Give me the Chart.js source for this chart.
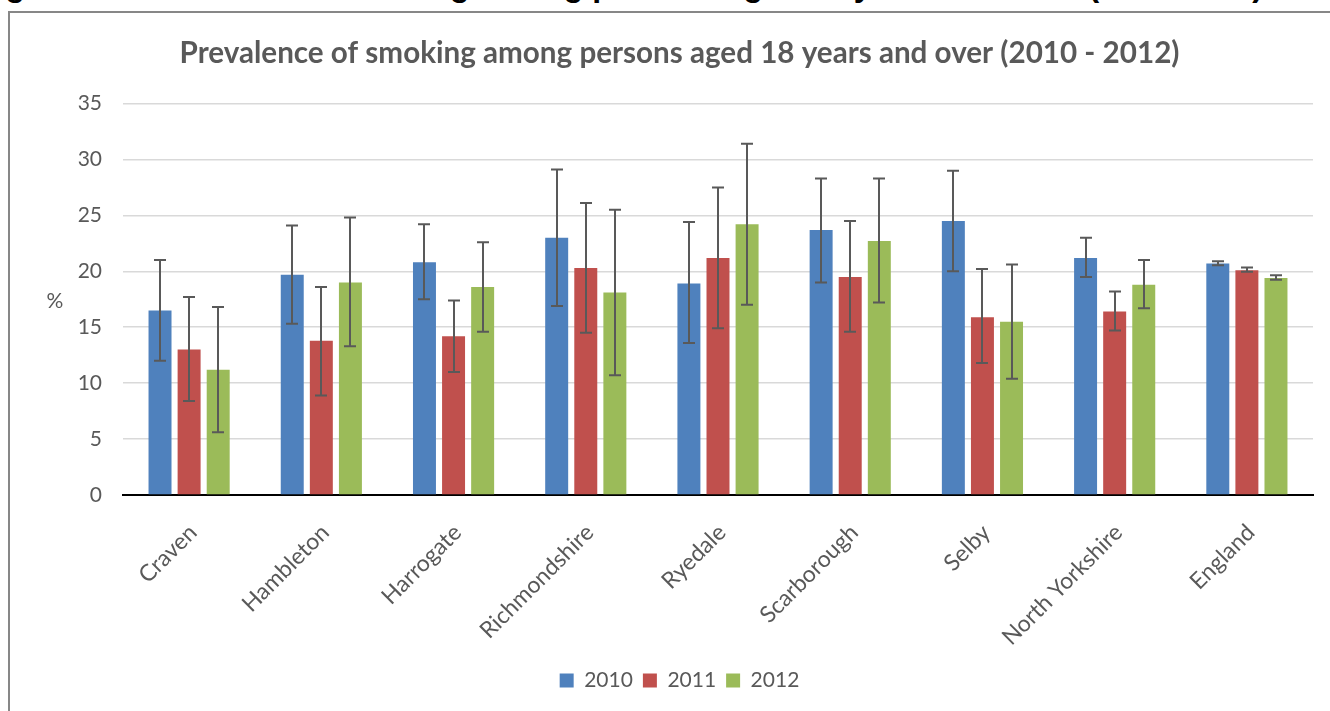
<!DOCTYPE html>
<html>
<head>
<meta charset="utf-8">
<script src="https://cdn.jsdelivr.net/npm/chart.js@4.4.1/dist/chart.umd.min.js"></script>
<style>
  html, body { margin:0; padding:0; background:#fff; overflow:hidden; width:1330px; height:711px; }
  #caption { position:absolute; left:-23px; top:-33px; line-height:32px; white-space:nowrap;
    font: bold 32px "Liberation Sans", Arial, sans-serif; color:#000; }
  #frame { position:absolute; left:8px; top:11px; width:1340px; height:720px;
    border-top:2px solid #878787; border-left:2px solid #878787; }
  #wrap { position:absolute; left:10px; top:13px; width:1320px; height:698px; }
</style>
</head>
<body>
<div id="caption">Figure 5: Prevalence of smoking among persons aged 18 years and over (2010-2012)</div>
<div id="frame"></div>
<div id="wrap"><canvas id="c" width="1320" height="698"></canvas></div>
<script>
const FONT = 'Lato, "Open Sans", sans-serif';
const titleText = 'Prevalence of smoking among persons aged 18 years and over (2010 - 2012)';
const categories = ['Craven','Hambleton','Harrogate','Richmondshire','Ryedale','Scarborough','Selby','North Yorkshire','England'];
const seriesNames = ['2010','2011','2012'];
const yTicks = [0,5,10,15,20,25,30,35];

const v2010 = [16.5, 19.7, 20.8, 23.0, 18.9, 23.7, 24.5, 21.2, 20.7];
const v2011 = [13.0, 13.8, 14.2, 20.3, 21.2, 19.5, 15.9, 16.4, 20.1];
const v2012 = [11.2, 19.0, 18.6, 18.1, 24.2, 22.7, 15.5, 18.8, 19.4];

const hi2010 = [21.0, 24.1, 24.2, 29.1, 24.4, 28.3, 29.0, 23.0, 20.9];
const lo2010 = [12.0, 15.3, 17.5, 16.9, 13.6, 19.0, 20.0, 19.5, 20.55];
const hi2011 = [17.7, 18.6, 17.4, 26.1, 27.5, 24.5, 20.2, 18.2, 20.35];
const lo2011 = [8.4, 8.9, 11.0, 14.5, 14.9, 14.6, 11.8, 14.7, 19.95];
const hi2012 = [16.8, 24.8, 22.6, 25.5, 31.4, 28.3, 20.6, 21.0, 19.65];
const lo2012 = [5.6, 13.3, 14.6, 10.7, 17.0, 17.2, 10.4, 16.7, 19.25];

const colors = ['#4F81BD','#C0504D','#9BBB59'];

// fit title to reference width
const mctx = document.createElement('canvas').getContext('2d');
mctx.font = 'bold 100px ' + FONT;
const titleSize = Math.min(30, 100 * 1000 / mctx.measureText(titleText).width);

const errorBars = {
  id: 'errorBars',
  afterDatasetsDraw(chart) {
    const ctx = chart.ctx, ys = chart.scales.y;
    ctx.save();
    ctx.strokeStyle = '#595959';
    ctx.lineWidth = 2;
    chart.data.datasets.forEach((ds, i) => {
      const meta = chart.getDatasetMeta(i);
      meta.data.forEach((bar, j) => {
        const x = Math.round(bar.x);
        const t = ys.getPixelForValue(ds.hi[j]);
        const b = ys.getPixelForValue(ds.lo[j]);
        ctx.beginPath();
        ctx.moveTo(x, t); ctx.lineTo(x, b);
        ctx.moveTo(x - 6, t); ctx.lineTo(x + 6, t);
        ctx.moveTo(x - 6, b); ctx.lineTo(x + 6, b);
        ctx.stroke();
      });
    });
    ctx.restore();
  }
};

const pctLabel = {
  id: 'pctLabel',
  afterDraw(chart) {
    const ctx = chart.ctx, a = chart.chartArea;
    ctx.save();
    ctx.fillStyle = '#595959';
    ctx.font = '21px ' + FONT;
    ctx.textAlign = 'center';
    ctx.textBaseline = 'middle';
    ctx.fillText('%', a.left - 68, (a.top + a.bottom) / 2 + 2);
    ctx.restore();
  }
};

new Chart(document.getElementById('c'), {
  type: 'bar',
  data: {
    labels: categories,
    datasets: [
      { label: seriesNames[0], data: v2010, hi: hi2010, lo: lo2010, backgroundColor: colors[0] },
      { label: seriesNames[1], data: v2011, hi: hi2011, lo: lo2011, backgroundColor: colors[1] },
      { label: seriesNames[2], data: v2012, hi: hi2012, lo: lo2012, backgroundColor: colors[2] }
    ]
  },
  options: {
    responsive: false,
    animation: false,
    devicePixelRatio: 1,
    categoryPercentage: 0.66,
    barPercentage: 0.79,
    layout: { padding: { left: 36, right: 17, top: 0, bottom: 10 } },
    plugins: {
      title: {
        display: true, text: titleText, color: '#595959',
        font: { family: FONT, size: titleSize, weight: 'bold' },
        padding: { top: 23, bottom: 32 }
      },
      legend: {
        position: 'bottom',
        labels: { boxWidth: 14, boxHeight: 14, padding: 10, color: '#595959',
          font: { family: FONT, size: 21 } }
      },
      tooltip: { enabled: false }
    },
    scales: {
      x: {
        grid: { display: false },
        border: { display: true, color: '#000', width: 2 },
        ticks: { color: '#595959', font: { family: FONT, size: 23 }, minRotation: 45, maxRotation: 45, padding: 16, labelOffset: 4 },
        afterFit(s) { s.height = 165; }
      },
      y: {
        min: 0, max: 35,
        afterBuildTicks(s) { s.ticks = yTicks.map(v => ({ value: v })); },
        grid: { color: '#d9d9d9', lineWidth: 1.5, drawTicks: false },
        border: { display: false },
        ticks: { color: '#595959', font: { family: FONT, size: 21 }, padding: 21 },
        afterFit(s) { s.width = 77; }
      }
    }
  },
  plugins: [errorBars, pctLabel]
});
</script>
</body>
</html>
